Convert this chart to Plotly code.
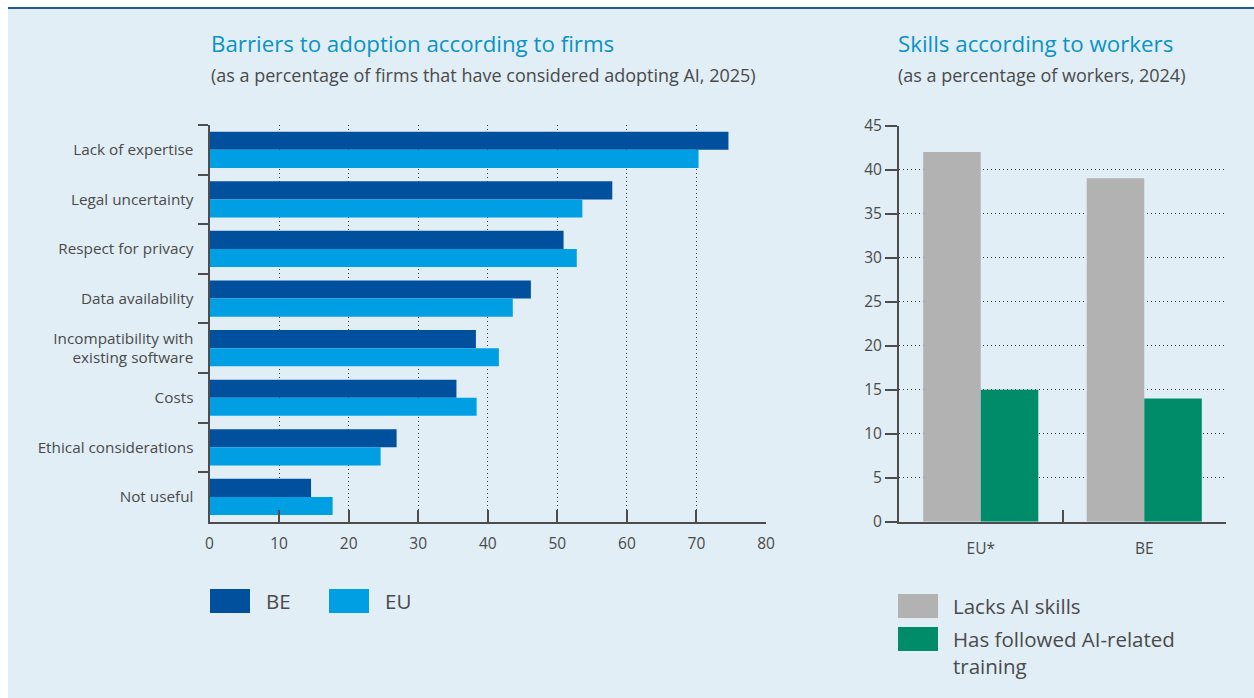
import plotly.graph_objects as go

W, H = 1254, 698

# Barriers to adoption according to firms (% of firms, 2025)
barriers = [
    "Lack of expertise",
    "Legal uncertainty",
    "Respect for privacy",
    "Data availability",
    "Incompatibility with<br>existing software",
    "Costs",
    "Ethical considerations",
    "Not useful",
]
barrier_series = ["BE", "EU"]
barriers_be = [74.6, 57.9, 50.9, 46.2, 38.3, 35.5, 26.9, 14.6]
barriers_eu = [70.3, 53.6, 52.8, 43.6, 41.6, 38.4, 24.6, 17.7]

# Skills according to workers (% of workers, 2024)
regions = ["EU*", "BE"]
skill_series = ["Lacks AI skills", "Has followed AI-related<br>training"]
lacks_skills = [42, 39]
followed_training = [15, 14]

barrier_colors = ["#00509E", "#009FE3"]
skill_colors = ["#B2B2B2", "#008C68"]

BG = "#E1EEF6"
AXIS = "#4D4D4D"
GRID = "#3A3A3A"
TEXT = "#4A4A4A"
FONT = "Open Sans"


def px_x(x):
    return x / W


def px_y(y):
    return 1 - y / H


fig = go.Figure()

for name, vals, col in zip(barrier_series, [barriers_be, barriers_eu], barrier_colors):
    fig.add_trace(go.Bar(
        x=vals, y=barriers, name=name, orientation="h",
        marker=dict(color=col, line=dict(width=0)),
        xaxis="x", yaxis="y", showlegend=False,
    ))

# side-by-side columns for the skills panel
skill_width = 0.352
for i, (name, vals, col) in enumerate(zip(skill_series, [lacks_skills, followed_training], skill_colors)):
    fig.add_trace(go.Bar(
        x=regions, y=vals, name=name,
        width=skill_width, offset=(i - 1) * skill_width,
        marker=dict(color=col, line=dict(width=0)),
        xaxis="x2", yaxis="y2", showlegend=False,
    ))

common_axis = dict(automargin=False, showline=True, linecolor=AXIS, linewidth=2,
                   tickcolor=AXIS, tickwidth=1.5, zeroline=False)
dotted_grid = dict(showgrid=True, gridcolor=GRID, griddash="1px,3px", gridwidth=1)

fig.update_layout(
    template="none",
    width=W, height=H,
    margin=dict(l=0, r=0, t=0, b=0, pad=0),
    paper_bgcolor="white",
    plot_bgcolor="white",
    barmode="group",
    bargap=0.27,
    bargroupgap=0,
    font=dict(family=FONT, color=TEXT, size=14),
    xaxis=dict(
        common_axis, **dotted_grid,
        domain=[px_x(209.5), px_x(766)], anchor="y",
        range=[0, 80], dtick=10, tick0=0,
        ticks="inside", ticklen=12,
        ticklabelstandoff=7,
        tickfont=dict(size=15.5, color=TEXT),
    ),
    yaxis=dict(
        common_axis,
        domain=[px_y(521.7), px_y(125)], anchor="x",
        autorange="reversed", type="category",
        ticks="outside", tickson="boundaries", ticklen=10,
        ticklabelstandoff=11,
        showgrid=False,
        tickfont=dict(size=15.3, color=TEXT),
    ),
    xaxis2=dict(
        common_axis,
        domain=[px_x(899), px_x(1226)], anchor="y2",
        type="category",
        ticks="inside", tickson="boundaries", ticklen=12,
        ticklabelstandoff=12,
        showgrid=False,
        tickfont=dict(size=15.5, color=TEXT),
    ),
    yaxis2=dict(
        common_axis, **dotted_grid,
        domain=[px_y(521.7), px_y(125.5)], anchor="x2",
        range=[0, 45], dtick=5, tick0=0,
        ticks="outside", ticklen=12,
        tickfont=dict(size=15.5, color=TEXT),
    ),
)

# Panel background and top rule
fig.add_shape(type="rect", xref="paper", yref="paper",
              x0=px_x(8), x1=1, y0=0, y1=px_y(9),
              fillcolor=BG, line=dict(width=0), layer="below")
fig.add_shape(type="line", xref="paper", yref="paper",
              x0=px_x(8), x1=1, y0=px_y(8), y1=px_y(8),
              line=dict(color="#1D5C9A", width=2))

# Titles
titles = [
    (209, "Barriers to adoption according to firms",
     "(as a percentage of firms that have considered adopting AI, 2025)"),
    (896, "Skills according to workers", "(as a percentage of workers, 2024)"),
]
for x0, title, sub in titles:
    fig.add_annotation(xref="paper", yref="paper", x=px_x(x0), y=px_y(44),
                       xanchor="left", yanchor="middle", showarrow=False,
                       text=title, font=dict(size=22.3, color="#0A93C4", family=FONT))
    fig.add_annotation(xref="paper", yref="paper", x=px_x(x0), y=px_y(75),
                       xanchor="left", yanchor="middle", showarrow=False,
                       text=sub, font=dict(size=18, color=TEXT, family=FONT))

# Legend for the barriers chart (horizontal)
for i, (name, col) in enumerate(zip(barrier_series, barrier_colors)):
    sx = 210 + i * 119
    fig.add_shape(type="rect", xref="paper", yref="paper",
                  x0=px_x(sx), x1=px_x(sx + 40), y0=px_y(613), y1=px_y(589),
                  fillcolor=col, line=dict(width=0))
    fig.add_annotation(xref="paper", yref="paper", x=px_x(sx + 54), y=px_y(601),
                       xanchor="left", yanchor="middle", showarrow=False,
                       text=name, font=dict(size=20.5, color=TEXT, family=FONT))

# Legend for the skills chart (vertical)
for i, (name, col) in enumerate(zip(skill_series, skill_colors)):
    top = 594 + i * 33
    fig.add_shape(type="rect", xref="paper", yref="paper",
                  x0=px_x(898), x1=px_x(938), y0=px_y(top + 24), y1=px_y(top),
                  fillcolor=col, line=dict(width=0))
    fig.add_annotation(xref="paper", yref="paper", x=px_x(951), y=px_y(top - 4),
                       xanchor="left", yanchor="top", showarrow=False, align="left",
                       text=name, font=dict(size=20.5, color=TEXT, family=FONT))

fig.write_html("out.html")
